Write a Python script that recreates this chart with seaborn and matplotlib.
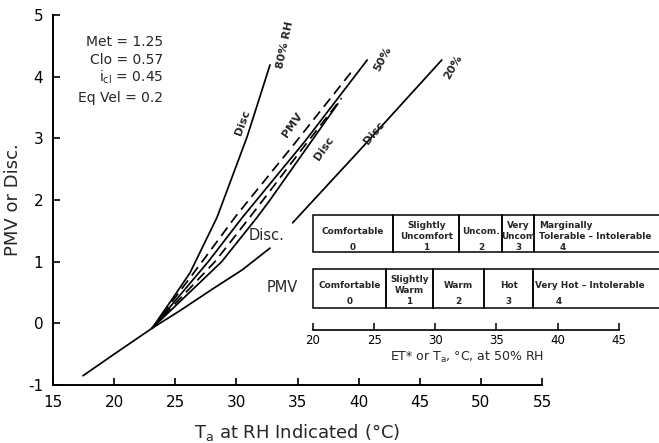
import numpy as np
import pandas as pd
import matplotlib
matplotlib.use("Agg")
import matplotlib.pyplot as plt
from matplotlib.patches import Rectangle
import seaborn as sns

# ---------------- data ----------------
common_ta = [17.45, 20.0, 23.1]
common_v = [-0.85, -0.50, -0.08]

disc80_ta = [23.1, 24.6, 26.21, 28.42, 30.87, 32.75]
disc80_v = [-0.08, 0.35, 0.82, 1.72, 3.02, 4.19]

pmv_a_ta = [23.1, 27.2, 30.0, 34.7, 39.5]
pmv_a_v = [-0.08, 1.0, 1.75, 2.9, 4.1]

disc50_ta = [23.1, 27.7, 30.5, 35.6, 40.7]
disc50_v = [-0.08, 1.0, 1.72, 2.95, 4.27]

pmv_c_ta = [23.1, 28.25, 31.1, 35.0, 38.6]
pmv_c_v = [-0.08, 1.0, 1.72, 2.73, 3.65]

disc_d_ta = [23.1, 28.8, 31.7, 32.75, 38.3]
disc_d_v = [-0.08, 1.0, 1.72, 2.0, 3.56]

disc20_lo_ta = [23.1, 25.5, 28.0, 30.5, 32.75]
disc20_lo_v = [-0.08, 0.22, 0.55, 0.87, 1.22]
disc20_hi_ta = [34.6, 40.1, 46.8]
disc20_hi_v = [1.63, 2.81, 4.27]

x_ticks = [15, 20, 25, 30, 35, 40, 45, 50, 55]
y_ticks = [-1, 0, 1, 2, 3, 4, 5]

params = ["Met = 1.25", "Clo = 0.57", r"i$_{\mathregular{cl}}$ = 0.45", "Eq Vel = 0.2"]

# inset scale
inset_ticks = [20, 25, 30, 35, 40, 45]
disc_edges = [20, 26.56, 31.97, 35.5, 38.1, 49.0]
disc_names = ["Comfortable", "Slightly\nUncomfort", "Uncom.", "Very\nUncom", "Marginally\nTolerable \u2013 Intolerable"]
disc_codes = ["0", "1", "2", "3", "4"]
pmv_edges = [20, 26.0, 29.8, 34.0, 38.0, 49.0]
pmv_names = ["Comfortable", "Slightly\nWarm", "Warm", "Hot", "Very Hot \u2013 Intolerable"]
pmv_codes = ["0", "1", "2", "3", "4"]

# ---------------- figure ----------------
sns.set_style("ticks")
plt.rcParams["font.family"] = ["DejaVu Sans"]
plt.rcParams["axes.unicode_minus"] = False

W, H = 659, 443
fig = plt.figure(figsize=(W / 100, H / 100), dpi=100)
ax = fig.add_axes([53 / W, 1 - 385 / H, (542 - 53) / W, (385 - 15) / H])

def draw(xs, ys, dashed=False):
    df = pd.DataFrame({"Ta": xs, "v": ys})
    kw = dict(color="black", linewidth=1.25)
    if dashed:
        kw["linestyle"] = (0, (6, 3.5))
    sns.lineplot(data=df, x="Ta", y="v", ax=ax, sort=False, estimator=None, **kw)

draw(common_ta, common_v)
draw(disc80_ta, disc80_v)
draw(pmv_a_ta, pmv_a_v, dashed=True)
draw(disc50_ta, disc50_v)
draw(pmv_c_ta, pmv_c_v, dashed=True)
draw(disc_d_ta, disc_d_v)
draw(disc20_lo_ta, disc20_lo_v)
draw(disc20_hi_ta, disc20_hi_v)

ax.set_xlim(15, 55)
ax.set_ylim(-1, 5)
ax.set_xticks(x_ticks)
ax.set_yticks(y_ticks)
ax.tick_params(direction="in", length=5, width=1.2, labelsize=11, pad=7, colors="black")
for s in ["top", "right"]:
    ax.spines[s].set_visible(False)
for s in ["left", "bottom"]:
    ax.spines[s].set_linewidth(1.4)
    ax.spines[s].set_color("black")
ax.set_xlabel(r"T$_\mathregular{a}$ at RH Indicated (°C)", fontsize=13, labelpad=9)
ax.set_ylabel("PMV or Disc.", fontsize=13)
ax.yaxis.set_label_coords(-0.064, 0.5)

# parameter block
for t, yy in zip(params, [4.56, 4.27, 3.99, 3.65]):
    ax.text(24.0, yy, t, ha="right", va="center", fontsize=10)

# curve labels
lab = dict(ha="center", va="center", fontsize=8, fontweight="bold")
ax.text(34.0, 4.51, "80% RH", rotation=78, **lab)
ax.text(30.5, 3.25, "Disc", rotation=70, **lab)
ax.text(34.6, 3.22, "PMV", rotation=55, **lab)
ax.text(37.2, 2.84, "Disc", rotation=55, **lab)
ax.text(41.3, 3.09, "Disc", rotation=50, **lab)
ax.text(42.0, 4.29, "50%", rotation=62, **lab)
ax.text(47.7, 4.16, "20%", rotation=60, **lab)

# ---------------- inset scale ----------------
axi = fig.add_axes([313 / W, 1 - 330 / H, (W - 313) / W, 120 / H])
axi.set_facecolor("none")
axi.set_xlim(20, 20 + (W - 313) / 12.225)
axi.set_ylim(0, 120)
for s in ["top", "right", "left"]:
    axi.spines[s].set_visible(False)
axi.spines["bottom"].set_bounds(20, 45)
axi.spines["bottom"].set_linewidth(1.2)
axi.spines["bottom"].set_color("black")
axi.set_yticks([])
axi.set_xticks(inset_ticks)
axi.tick_params(axis="x", direction="in", length=5, width=1.1, labelsize=8.5, pad=3, colors="black")
axi.text(32.6, -27, r"ET* or T$_\mathregular{a}$, °C, at 50% RH", ha="center", va="center", fontsize=9)

def row(edges, names, codes, y0, y1, name_y, code_y, left_last):
    for k in range(len(names)):
        x0, x1 = edges[k], edges[k + 1]
        axi.add_patch(Rectangle((x0, y0), x1 - x0, y1 - y0, fill=False,
                                edgecolor="black", linewidth=1.1, clip_on=False))
        if k == len(names) - 1:
            axi.text(left_last, name_y, names[k], ha="left", va="center",
                     fontsize=6.4, fontweight="bold", linespacing=1.3, clip_on=False)
            axi.text(left_last + 1.9, code_y, codes[k], ha="center", va="center",
                     fontsize=6.4, fontweight="bold")
        else:
            cx = (x0 + x1) / 2
            axi.text(cx, name_y, names[k], ha="center", va="center",
                     fontsize=6.4, fontweight="bold", linespacing=1.3)
            axi.text(cx, code_y, codes[k], ha="center", va="center",
                     fontsize=6.4, fontweight="bold")

row(disc_edges, disc_names, disc_codes, 78, 115, 99, 83, 38.5)
row(pmv_edges, pmv_names, pmv_codes, 22, 61, 45, 28, 38.2)

axi.text(16.2, 95, "Disc.", ha="center", va="center", fontsize=10.5, clip_on=False)
axi.text(17.5, 42, "PMV", ha="center", va="center", fontsize=10.5, clip_on=False)

fig.savefig("out.png", dpi=100)
